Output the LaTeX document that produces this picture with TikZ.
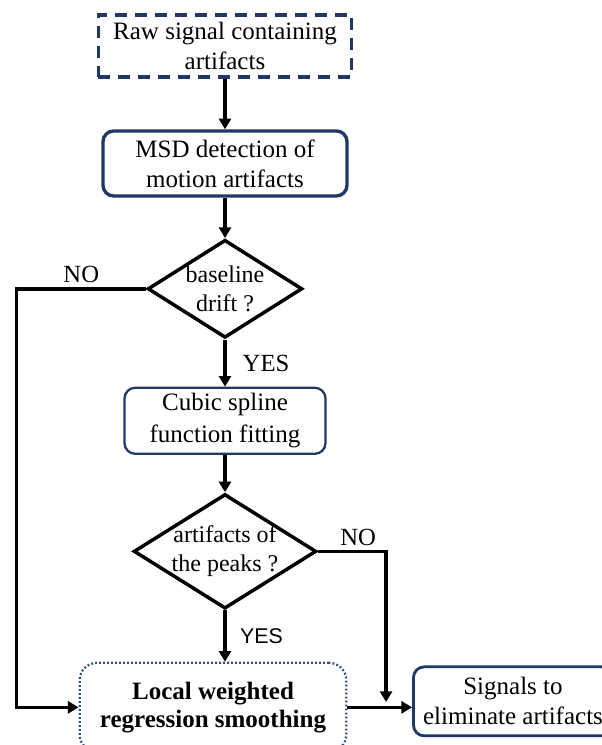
\documentclass[tikz,border=0pt]{standalone}
\usepackage{fontspec}
\setmainfont{Liberation Serif}
\newfontfamily\yessans{Liberation Sans}
\usetikzlibrary{positioning,shapes,arrows.meta}
\definecolor{boxnavy}{HTML}{203864}
\definecolor{dotblue}{HTML}{35507F}

\begin{document}
\begin{tikzpicture}[x=0.75pt,y=-0.75pt,node distance=94pt] % 1 unit = 1 px of the sketch
            \tikzstyle{rawbox} = [rectangle, minimum width=190pt, minimum height=46.5pt, align=center, draw=boxnavy, line width=2.5pt, dash pattern=on 9pt off 6pt, font=\fontsize{18.75}{23}\selectfont]
            \tikzstyle{process} = [rectangle, rounded corners=8pt, align=center, draw=boxnavy, line width=2.4pt, font=\fontsize{18.75}{22.5}\selectfont]
            \tikzstyle{decision} = [diamond, inner sep=-8pt, align=center, draw=black, line width=2.6pt, font=\fontsize{18}{21.5}\selectfont]
            \tikzstyle{smoothbox} = [rectangle, rounded corners=13pt, minimum width=200pt, minimum height=66.75pt, align=center, draw=dotblue, line width=1.7pt, dash pattern=on 1.4pt off 1.6pt, font=\fontsize{18.75}{21}\selectfont\bfseries]
            \tikzstyle{arrow} = [line width=2.6pt, -{Triangle[length=8pt,width=9pt]}]
            \tikzstyle{answer} = [inner sep=3pt, font=\fontsize{18.5}{20}\selectfont]

            \useasboundingbox (0,0) rectangle (602,745);

            % Nodes
            \node (raw) [rawbox] at (225,46) {Raw signal containing\\artifacts};
            \node (msd) [process, below of=raw, yshift=5.9pt, minimum width=183pt, minimum height=48.75pt, line width=2.5pt] {MSD detection of\\motion artifacts};
            \node (drift) [decision, below of=msd, minimum width=116pt, minimum height=73.5pt] {baseline\\drift ?};
            \node (cubic) [process, below of=drift, yshift=-5pt, minimum width=150.75pt, minimum height=49.5pt, line width=1.7pt, font=\fontsize{18.75}{24}\selectfont] {Cubic spline\\function fitting};
            \node (peaks) [decision, below of=cubic, yshift=-3.9pt, minimum width=137pt, minimum height=85pt] {artifacts of\\the peaks ?};

            % Output
            \node (lwr) [smoothbox, below of=peaks, yshift=-23pt, xshift=-9pt] {Local weighted\\regression smoothing};
            \node (sig) [process, node distance=225pt, right of=lwr, yshift=4.5pt, minimum width=149.25pt, minimum height=51.75pt, line width=2.1pt] {Signals to\\eliminate artifacts};

            % Corners of the NO branches
            \coordinate (noleft) at ([xshift=-97pt]drift.west);
            \coordinate (noright) at ([xshift=51pt]peaks.east);

            % Arrows
            \draw [arrow] (raw) -- (msd);
            \draw [arrow] (msd) -- (drift);
            \draw [arrow] (drift) -- node[answer, right, xshift=9pt] {YES} (cubic);
            \draw [arrow] (cubic) -- (peaks);
            \draw [arrow] (peaks.south) -- node[answer, right, xshift=7pt, font=\yessans\fontsize{16}{18}\selectfont] {YES} (peaks.south |- lwr.north);
            \draw [arrow] (drift.west) -- node[answer, above] {NO} (noleft) |- (lwr.west);
            \draw [arrow] (peaks.east) -- node[answer, above, xshift=4.5pt] {NO} (noright) -- ([yshift=4pt]noright |- lwr.east);
            \draw [arrow] (lwr.east) -- (lwr.east -| sig.west);
        \end{tikzpicture}
\end{document}
